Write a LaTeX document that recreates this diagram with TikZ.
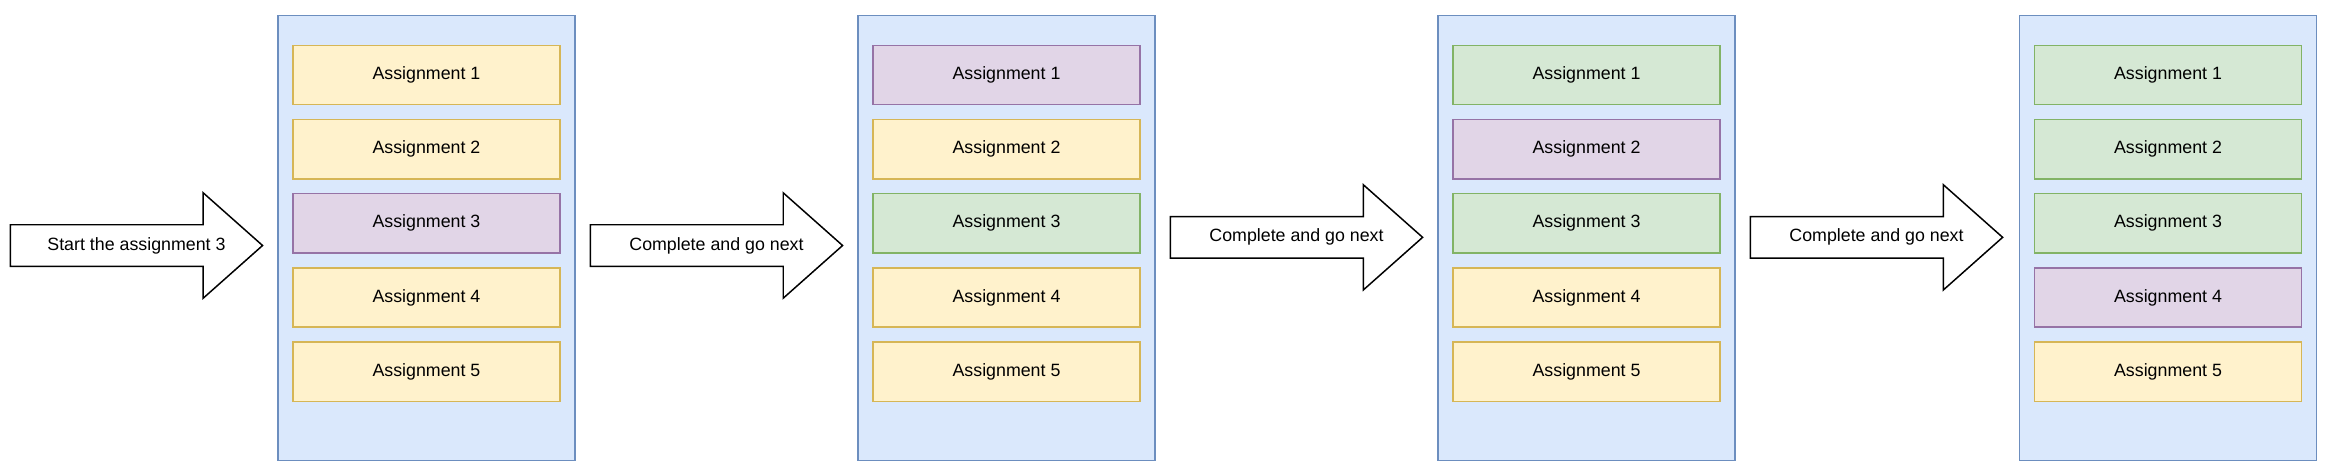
\documentclass[tikz,border=0pt]{standalone}
\usepackage{fontspec}
\setmainfont{Liberation Sans}
\definecolor{bluefill}{HTML}{DAE8FC}
\definecolor{bluedraw}{HTML}{6C8EBF}
\definecolor{Yfill}{HTML}{FFF2CC}
\definecolor{Ydraw}{HTML}{D6B656}
\definecolor{Pfill}{HTML}{E1D5E7}
\definecolor{Pdraw}{HTML}{9673A6}
\definecolor{Gfill}{HTML}{D5E8D4}
\definecolor{Gdraw}{HTML}{82B366}
\tikzset{
  panelbox/.style={draw=bluedraw, fill=bluefill, line width=1pt, minimum width=200pt, minimum height=300pt, anchor=north west, inner sep=0pt},
  itembox/.style={draw=#1draw, fill=#1fill, line width=1pt, minimum width=180pt, minimum height=40pt, anchor=north west, inner sep=0pt, font=\fontsize{12}{14}\selectfont},
  arrowshape/.style={draw=black, fill=white, line width=1pt},
  arrowtext/.style={font=\fontsize{12}{14}\selectfont, inner sep=0pt}
}
\begin{document}
\begin{tikzpicture}[x=1pt,y=-1pt]
\useasboundingbox (0,0) rectangle (1568,317);
% panels and items
\foreach \k/\px/\ca/\cb/\cc/\cd/\ce in {0/187/Y/Y/P/Y/Y, 1/578/P/Y/G/Y/Y, 2/969/G/P/G/Y/Y, 3/1361/G/G/G/P/Y}{
  \node[panelbox] (panel\k) at (\px,10) {};
  \node[itembox=\ca] (item\k-1) at (\px+10,30) {Assignment 1};
  \node[itembox=\cb] (item\k-2) at (\px+10,80) {Assignment 2};
  \node[itembox=\cc] (item\k-3) at (\px+10,130) {Assignment 3};
  \node[itembox=\cd] (item\k-4) at (\px+10,180) {Assignment 4};
  \node[itembox=\ce] (item\k-5) at (\px+10,230) {Assignment 5};
}
% arrows
\foreach \n/\x/\cy/\txt in {1/7/165.5/Start the assignment 3, 2/398/165.5/Complete and go next, 3/789/160/Complete and go next, 4/1180/160/Complete and go next}{
  \draw[arrowshape] (\x,\cy-14) -- (\x+130,\cy-14) -- (\x+130,\cy-35.5) -- (\x+170,\cy)
     -- (\x+130,\cy+35.5) -- (\x+130,\cy+14) -- (\x,\cy+14) -- cycle;
  \node[arrowtext] (arrow\n) at (\x+85,\cy) {\txt};
}
\end{tikzpicture}
\end{document}
